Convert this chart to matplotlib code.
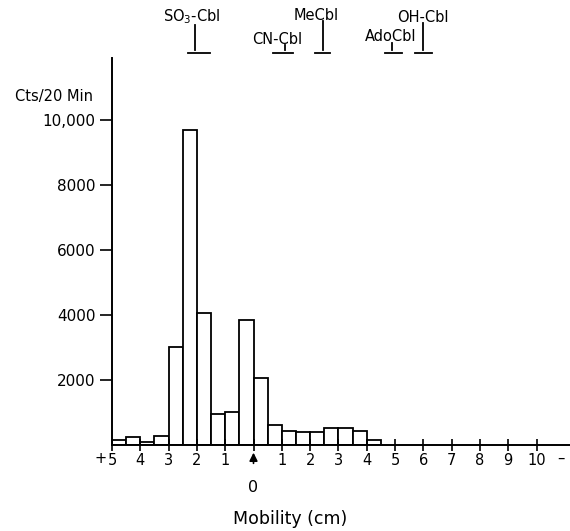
import numpy as np
import matplotlib
matplotlib.use('Agg')
import matplotlib.pyplot as plt

# bins of 0.5 cm, left edge; negative = toward "+" (anode) side
bin_left = np.arange(-5.0, 4.5, 0.5)
counts = [150, 260, 100, 270, 3000, 9700, 4050, 940, 1020, 3850,
          2050, 600, 420, 410, 410, 530, 520, 440, 150]

x_ticks = list(range(-5, 11))
x_labels = [str(abs(t)) if t != 0 else '' for t in x_ticks]
y_ticks = [2000, 4000, 6000, 8000, 10000]
y_labels = ['2000', '4000', '6000', '8000', '10,000']

# reference compounds (mobility position, span of marker, label)
ref_names = ['SO$_3$-Cbl', 'CN-Cbl', 'MeCbl', 'AdoCbl', 'OH-Cbl']
ref_pos = [-2.05, 1.1, 2.45, 4.9, 6.0]
ref_span = [(-2.3, -1.55), (0.7, 1.4), (2.17, 2.7), (4.65, 5.25), (5.7, 6.3)]

fig = plt.figure(figsize=(5.7, 5.31), dpi=100)
ax = fig.add_axes([112 / 570, 86 / 531, 458 / 570, 387 / 531])

ax.bar(bin_left, counts, width=0.5, align='edge', facecolor='white',
       edgecolor='black', linewidth=1.3)

ax.set_xlim(-5, -5 + 458 / 28.3)
ax.set_ylim(0, 11900)
for s in ['top', 'right']:
    ax.spines[s].set_visible(False)
ax.spines['left'].set_linewidth(1.4)
ax.spines['bottom'].set_linewidth(1.4)

ax.set_xticks(x_ticks)
ax.set_xticklabels(x_labels, fontsize=10.5)
ax.set_yticks(y_ticks)
ax.set_yticklabels(y_labels, fontsize=11)
ax.tick_params(axis='x', direction='inout', length=8, width=1.2, pad=2)
ax.tick_params(axis='y', direction='out', length=9, width=1.2, pad=3)

# "+" and "-" ends of the mobility scale, and the origin arrow
ax.text(-5.4, -420, '+', ha='center', va='center', fontsize=10.5)
ax.text(10.85, -420, '–', ha='center', va='center', fontsize=10.5)
ax.annotate('', xy=(0, -150), xytext=(0, -650),
            arrowprops=dict(arrowstyle='-|>', color='black', lw=1.2,
                            mutation_scale=12), annotation_clip=False)
ax.text(0, -1300, '0', ha='center', va='center', fontsize=11.5)

fig.text(54 / 570, 1 - 96 / 531, 'Cts/20 Min', ha='center', va='center', fontsize=10.5)
fig.text(290 / 570, 1 - 519 / 531, 'Mobility (cm)', ha='center', va='center', fontsize=12.5)

# reference markers above the plot
tr = ax.get_xaxis_transform()
def fy(py):
    return (445 - py) / 387

text_dx = [-0.15, -0.25, -0.25, -0.05, 0.0]
text_py = [17, 40, 16, 37, 17]
line_top = [25, 45, 21, 43, 23]
for name, p, (a, b), dx, ty, lt in zip(ref_names, ref_pos, ref_span, text_dx, text_py, line_top):
    ax.plot([p, p], [fy(lt), fy(50)], color='black', lw=1.3, transform=tr, clip_on=False)
    ax.plot([a, b], [fy(53), fy(53)], color='black', lw=1.3, transform=tr, clip_on=False)
    ax.text(p + dx, fy(ty), name, ha='center', va='center', fontsize=10.5,
            transform=tr, clip_on=False)

fig.savefig('out.png', dpi=100)
